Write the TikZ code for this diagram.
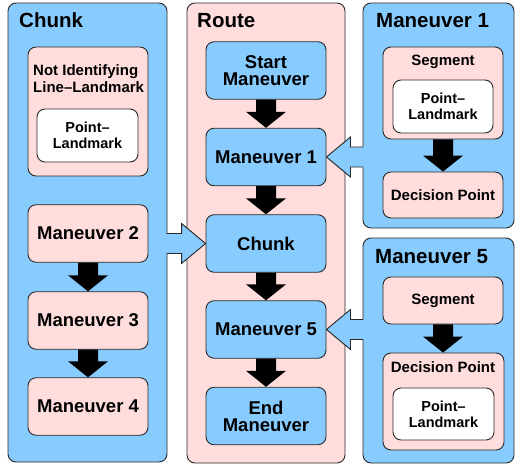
\documentclass[tikz,border=0pt]{standalone}
\usepackage{fontspec}
\setmainfont{Liberation Sans}
\usetikzlibrary{calc}
\definecolor{bx}{RGB}{136,204,255}
\definecolor{pk}{RGB}{255,221,221}
\definecolor{ln}{RGB}{40,40,40}
\newcommand\blockdown[2]{\fill[blk] let \p1=(#1.south), \p2=(#2.north) in
  (\x1-10pt,\y1) -- (\x1+10pt,\y1) -- (\x1+10pt,\y2+16pt) -- (\x1+20pt,\y2+16pt) --
  (\x1,\y2) -- (\x1-20pt,\y2+16pt) -- (\x1-10pt,\y2+16pt) -- cycle;}
\newcommand\blockleft[2]{%
  \fill[barr] let \p1=(#1.east), \p2=(#2.west) in
  (\x2+1.5pt,\y1+10pt) -- (\x1+24pt,\y1+10pt) -- (\x1+24pt,\y1+20pt) -- (\x1,\y1) --
  (\x1+24pt,\y1-20pt) -- (\x1+24pt,\y1-10pt) -- (\x2+1.5pt,\y1-10pt) -- cycle;
  \draw[barrline] let \p1=(#1.east), \p2=(#2.west) in
  (\x2+0.5pt,\y1+10pt) -- (\x1+24pt,\y1+10pt) -- (\x1+24pt,\y1+20pt) -- (\x1,\y1) --
  (\x1+24pt,\y1-20pt) -- (\x1+24pt,\y1-10pt) -- (\x2+0.5pt,\y1-10pt);}
\newcommand\blockright[2]{%
  \fill[barr] let \p1=(#1.west), \p2=(#2.east) in
  (\x2-1.5pt,\y1+10pt) -- (\x1-24pt,\y1+10pt) -- (\x1-24pt,\y1+20pt) -- (\x1,\y1) --
  (\x1-24pt,\y1-20pt) -- (\x1-24pt,\y1-10pt) -- (\x2-1.5pt,\y1-10pt) -- cycle;
  \draw[barrline] let \p1=(#1.west), \p2=(#2.east) in
  (\x2-0.5pt,\y1+10pt) -- (\x1-24pt,\y1+10pt) -- (\x1-24pt,\y1+20pt) -- (\x1,\y1) --
  (\x1-24pt,\y1-20pt) -- (\x1-24pt,\y1-10pt) -- (\x2-0.5pt,\y1-10pt);}
\begin{document}
\begin{tikzpicture}[x=1pt,y=-1pt,
  rbox/.style={draw=ln, line width=0.9pt, rounded corners=8pt, inner sep=0pt},
  container/.style={rbox, fill=bx},
  routec/.style={rbox, fill=pk},
  bluebox/.style={rbox, fill=bx},
  pinkbox/.style={rbox, fill=pk},
  whitebox/.style={rbox, fill=white},
  ttl/.style={font=\bfseries\fontsize{20.5}{22}\selectfont, anchor=base west, inner sep=0pt},
  big/.style={font=\bfseries\fontsize{18.5}{17}\selectfont, align=center},
  small/.style={font=\bfseries\fontsize{15}{17.5}\selectfont, align=center},
  tiny/.style={font=\bfseries\fontsize{14.5}{16}\selectfont, align=center},
  mainsz/.style={minimum width=120pt, minimum height=57.5pt},
  blk/.style={fill=black},
  barr/.style={fill=bx},
  barrline/.style={draw=ln, line width=0.9pt, line join=miter}
]
\useasboundingbox (0,0) rectangle (516,466);
% containers
\node[container, minimum width=159pt, minimum height=459pt] (chunkc) at (87.5,232.5) {};
\node[routec, minimum width=158pt, minimum height=460pt] (routecn) at (266,233) {};
\node[container, minimum width=151pt, minimum height=225pt] (m1c) at (438.5,115.5) {};
\node[container, minimum width=151pt, minimum height=225pt] (m5c) at (438.5,350.5) {};
% titles
\node[ttl] (chunkt) at (19,27) {Chunk};
\node[ttl] (routet) at (197,27) {Route};
\node[ttl] (m1t) at (376,27) {Maneuver 1};
\node[ttl] (m5t) at (375,263) {Maneuver 5};
% chunk container content
\node[pinkbox, minimum width=120pt, minimum height=129pt] (nil) at (88,111.5) {};
\node[small, align=left, anchor=north west, inner sep=0pt] (nilt) at (33,64.2) {Not Identifying\\Line–Landmark};
\node[whitebox, tiny, minimum width=101pt, minimum height=53pt] (pl1) at (87.5,135.5) {Point–\\Landmark};
\node[pinkbox, big, mainsz] (m2) at (88,233.5) {Maneuver 2};
\node[pinkbox, big, mainsz] (m3) at (88,320.5) {Maneuver 3};
\node[pinkbox, big, mainsz] (m4) at (88,406.5) {Maneuver 4};
% route content
\node[bluebox, big, mainsz] (start) at (266,70.5) {Start\\Maneuver};
\node[bluebox, big, mainsz] (m1r) at (266,157) {Maneuver 1};
\node[bluebox, big, mainsz] (chunkr) at (266,243.5) {Chunk};
\node[bluebox, big, mainsz] (m5r) at (266,329.5) {Maneuver 5};
\node[bluebox, big, mainsz] (endr) at (266,416) {End\\Maneuver};
% maneuver 1 content
\node[pinkbox, minimum width=120pt, minimum height=92pt] (seg1) at (443,93) {};
\node[small, anchor=base, inner sep=0pt] (seg1t) at (443,65) {Segment};
\node[whitebox, tiny, minimum width=100pt, minimum height=53pt] (pl2) at (443,106.5) {Point–\\Landmark};
\node[pinkbox, small, minimum width=120pt, minimum height=46pt] (dp1) at (443,195) {Decision Point};
% maneuver 5 content
\node[pinkbox, small, minimum width=120pt, minimum height=47pt] (seg5) at (443,300.5) {Segment};
\node[pinkbox, minimum width=121pt, minimum height=97pt] (dp5) at (443.5,401.5) {};
\node[small, anchor=base, inner sep=0pt] (dp5t) at (443,372) {Decision Point};
\node[whitebox, tiny, minimum width=101pt, minimum height=52pt] (pl3) at (443.5,414) {Point–\\Landmark};
% black arrows
\blockdown{m2}{m3}
\blockdown{m3}{m4}
\blockdown{start}{m1r}
\blockdown{m1r}{chunkr}
\blockdown{chunkr}{m5r}
\blockdown{m5r}{endr}
\blockdown{seg1}{dp1}
\blockdown{seg5}{dp5}
% blue arrows
\blockleft{m1r}{m1c}
\blockleft{m5r}{m5c}
\blockright{chunkr}{chunkc}
\end{tikzpicture}
\end{document}
